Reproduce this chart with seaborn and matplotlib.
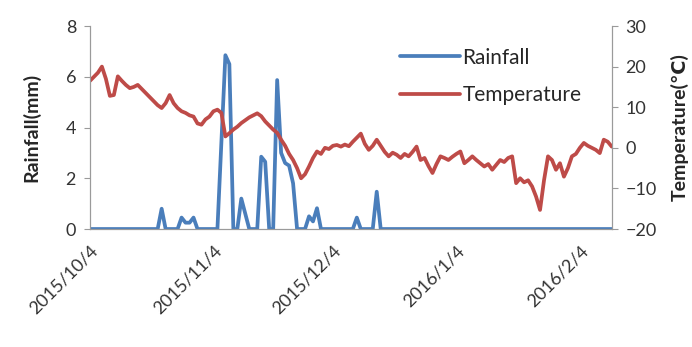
import matplotlib
matplotlib.use("Agg")
import matplotlib.pyplot as plt
import seaborn as sns
import pandas as pd
import numpy as np

start_date = "2015-10-04"
n_days = 132

rain_days = [18, 23, 24, 25, 26, 33, 34, 35, 38, 39, 43, 44, 47, 48, 49, 50, 51, 55, 56, 57, 67, 72]
rain_vals = [0.8, 0.45, 0.25, 0.25, 0.45, 3.4, 6.85, 6.5, 1.2, 0.6, 2.85, 2.65, 5.87, 3.0, 2.6, 2.5, 1.8, 0.5, 0.3, 0.82, 0.45, 1.47]

temperature = [16.5, 17.5, 18.5, 20, 17, 12.8, 13, 17.6, 16.5, 15.5,
               14.7, 15, 15.5, 14.5, 13.5, 12.5, 11.5, 10.5, 9.8, 11,
               13, 11, 9.8, 9, 8.6, 8, 7.7, 6, 5.7, 7,
               7.7, 9, 9.4, 8.6, 2.8, 3.6, 4.5, 5.2, 6.1, 6.8,
               7.5, 8, 8.5, 7.8, 6.5, 5.5, 4.5, 3.7, 2, 0.5,
               -1.5, -3, -5, -7.5, -6.5, -4.6, -2.5, -0.9, -1.5, 0,
               -0.3, 0.5, 0.7, 0.3, 0.8, 0.4, 1.5, 2.5, 3.5, 1,
               -0.5, 0.5, 2, 0.5, -1, -2.1, -1.2, -1.7, -2.5, -1.5,
               -2.1, -1, 0.3, -3, -2.5, -4.5, -6.2, -4, -2.1, -2.5,
               -3, -2.2, -1.5, -0.9, -3.8, -3, -2.1, -3, -3.8, -4.6,
               -4, -5.4, -4.2, -3, -3.5, -2.5, -2.1, -8.7, -7.5, -8.5,
               -8, -9.5, -12, -15.3, -8, -2.1, -3, -5.4, -3.8, -7.1,
               -5, -2.1, -1.5, 0, 1.2, 0.5, 0, -0.5, -1.3, 2,
               1.5, 0.3]

tick_labels = ["2015/10/4", "2015/11/4", "2015/12/4", "2016/1/4", "2016/2/4"]

dates = pd.date_range(start_date, periods=n_days, freq="D")
rainfall = np.zeros(n_days)
for d, v in zip(rain_days, rain_vals):
    rainfall[d] = v
df = pd.DataFrame({"date": dates, "Rainfall": rainfall, "Temperature": temperature})

sns.set_style("white")
plt.rcParams["font.family"] = ["Lato", "DejaVu Sans"]

blue = "#4A7EBB"
red = "#BE4B48"

fig = plt.figure(figsize=(6.92, 3.47), dpi=100)
ax = fig.add_axes([0.130, 0.340, 0.754, 0.585])
ax2 = ax.twinx()

sns.lineplot(data=df, x="date", y="Rainfall", ax=ax, color=blue, lw=2.7, label="Rainfall", legend=False)
sns.lineplot(data=df, x="date", y="Temperature", ax=ax2, color=red, lw=2.7, label="Temperature", legend=False)

ax.set_ylim(0, 8)
ax.set_yticks([0, 2, 4, 6, 8])
ax2.set_ylim(-20, 30)
ax2.set_yticks([-20, -10, 0, 10, 20, 30])
ax.set_xlim(dates[0], dates[-1])

tick_dates = pd.to_datetime(tick_labels, format="%Y/%m/%d")
ax.set_xticks(tick_dates)
ax.set_xticklabels(tick_labels, rotation=45, ha="right", rotation_mode="anchor", fontsize=13, color="#333333")

ax.set_xlabel("")
ax.set_ylabel("Rainfall(mm)", fontsize=14, fontweight="bold", labelpad=18)
ax2.set_ylabel("Temperature(\u2103)", fontsize=14, fontweight="bold", labelpad=10)

for a in (ax, ax2):
    a.spines["top"].set_visible(False)
    for s in ("left", "right", "bottom"):
        a.spines[s].set_color("#9a9a9a")
        a.spines[s].set_linewidth(0.8)
    a.tick_params(axis="y", labelsize=13, colors="#333333", length=4, color="#9a9a9a", pad=6)
    a.tick_params(axis="x", length=4, color="#9a9a9a", pad=6)
ax.tick_params(axis="y", direction="out")
ax2.tick_params(axis="y", direction="out")

h1, l1 = ax.get_legend_handles_labels()
h2, l2 = ax2.get_legend_handles_labels()
leg = ax2.legend(h1 + h2, l1 + l2, loc="upper left", bbox_to_anchor=(0.57, 0.955),
                 frameon=False, fontsize=15, handlelength=2.9, handletextpad=0.1,
                 labelspacing=0.85, borderaxespad=0.2)

fig.savefig("out.png", dpi=100)
